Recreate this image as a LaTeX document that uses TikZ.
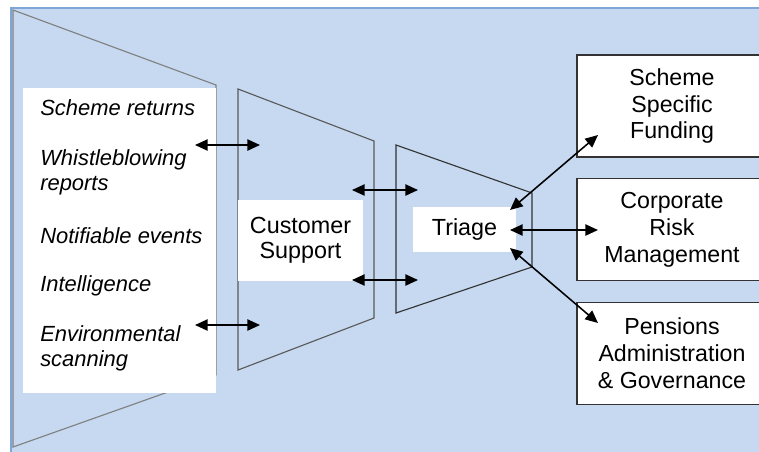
\documentclass[tikz,border=0pt]{standalone}
\usepackage{fontspec}
\setmainfont{Liberation Sans}
\usetikzlibrary{arrows.meta}
\definecolor{funnelblue}{HTML}{C6D9F1}
\definecolor{frameblue}{HTML}{7FA6D9}
\begin{document}
\begin{tikzpicture}[
        outbox/.style={draw=black!80, line width=1pt, fill=white, minimum width=4.75cm, minimum height=2.55cm, align=center, font=\fontsize{16.5}{19.1}\selectfont},
        inbox/.style={fill=white, align=center, font=\fontsize{16.6}{18}\selectfont},
        item/.style={anchor=west, align=left, inner sep=0pt, font=\fontsize{15.6}{17.7}\selectfont\itshape},
        funnel/.style={fill=funnelblue, line width=0.8pt},
        link/.style={<->, line width=1.1pt, >={Triangle[length=9pt,width=8pt]}}]
            \useasboundingbox (0,0) rectangle (18.975,-11.275);
            \clip (0,0) rectangle (18.975,-11.275);
            \fill[funnelblue] (0.275,-0.2) rectangle (19.2,-11.5);
            \draw[frameblue, line width=1pt] (0.275,-11.5) -- (0.275,-0.2) -- (19.2,-0.2);

            \draw[funnel, draw=black!50] (0.325,-0.25) -- (5.4,-2.125) -- (5.4,-9.375) -- (0.325,-11.175) -- cycle;
            \fill[white] (0.575,-2.2) rectangle (5.4,-9.825);
            \draw[funnel, draw=black!65] (5.95,-2.225) -- (9.35,-3.525) -- (9.35,-7.95) -- (5.95,-9.25) -- cycle;
            \draw[funnel, draw=black!80] (9.9,-3.625) -- (13.3,-4.825) -- (13.3,-6.675) -- (9.9,-7.825) -- cycle;

            \node[item] (returns) at (1.0,-2.7) {Scheme returns};
            \node[item] (whistle) at (1.0,-4.31) {Whistleblowing\\reports};
            \node[item] (notif) at (1.0,-5.9) {Notifiable events};
            \node[item] (intel) at (1.0,-7.15) {Intelligence};
            \node[item] (envscan) at (1.0,-8.71) {Environmental\\scanning};

            \node[inbox, minimum width=3.125cm, minimum height=2.025cm] (support) at (7.5125,-6.0125) {Customer\\Support};
            \node[inbox, minimum width=2.575cm, minimum height=1.125cm] (triage) at (11.6125,-5.7375) {Triage};

            \node[outbox] (funding) at (16.8,-2.65) {Scheme\\Specific\\Funding};
            \node[outbox] (risk) at (16.8,-5.7375) {Corporate\\Risk\\Management};
            \node[outbox] (admin) at (16.8,-8.8375) {Pensions\\Administration\\\& Governance};

            \coordinate (s1) at (4.875,-3.625);
            \coordinate (s2) at (4.875,-8.125);
            \coordinate (c1) at (6.5,-3.625);
            \coordinate (c2) at (6.5,-8.125);
            \coordinate (c3) at (8.8,-4.75);
            \coordinate (c4) at (8.8,-7.0);
            \coordinate (t1) at (10.45,-4.75);
            \coordinate (t2) at (10.45,-7.0);
            \coordinate (t3) at (12.75,-5.25);
            \coordinate (t4) at (12.75,-5.75);
            \coordinate (t5) at (12.75,-6.2);
            \coordinate (o1) at (14.95,-3.375);
            \coordinate (o2) at (14.95,-5.75);
            \coordinate (o3) at (14.95,-8.075);

            \draw[link] (s1) -- (c1);
            \draw[link] (s2) -- (c2);
            \draw[link] (c3) -- (t1);
            \draw[link] (c4) -- (t2);
            \draw[link] (t3) -- (o1);
            \draw[link] (t4) -- (o2);
            \draw[link] (t5) -- (o3);
        \end{tikzpicture}
\end{document}
